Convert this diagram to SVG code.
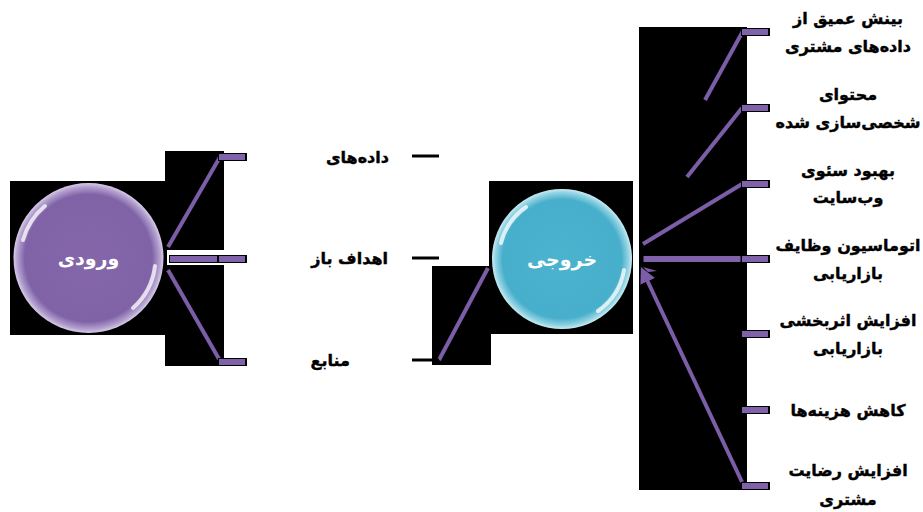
<svg xmlns="http://www.w3.org/2000/svg" width="923" height="512" viewBox="0 0 923 512">
<style>
.bg{fill:#000}
.ln{stroke:#7b5ea7;stroke-width:4;fill:none;stroke-linecap:butt}
.bar{fill:#7f62a9;stroke:#000;stroke-width:1}
.cap{fill:#000}
.lbl{font-family:"DejaVu Sans",sans-serif;font-weight:bold;font-size:16px;fill:#000;stroke:#000;stroke-width:0.4;text-anchor:end;dominant-baseline:central}
.rl{font-family:"DejaVu Sans",sans-serif;font-weight:bold;font-size:16px;fill:#000;stroke:#000;stroke-width:0.4;text-anchor:middle;dominant-baseline:central}
.ct{font-family:"DejaVu Sans",sans-serif;font-weight:bold;font-size:19px;fill:#fff;text-anchor:middle;dominant-baseline:central}
.hl{fill:none;stroke:#fff;stroke-width:4;stroke-linecap:round;opacity:0.75}
.dash{stroke:#000;stroke-width:3}
</style>
<defs>
<radialGradient id="gp" cx="50%" cy="50%" r="50%">
<stop offset="0" stop-color="#8466a9"/>
<stop offset="0.85" stop-color="#8063a7"/>
<stop offset="0.95" stop-color="#b3a0cf"/>
<stop offset="1" stop-color="#d8cce8"/>
</radialGradient>
<radialGradient id="gt" cx="50%" cy="50%" r="50%">
<stop offset="0" stop-color="#4cb3cf"/>
<stop offset="0.85" stop-color="#47afcb"/>
<stop offset="0.95" stop-color="#93d3e3"/>
<stop offset="1" stop-color="#c8ecf2"/>
</radialGradient>
<marker id="ah" viewBox="0 0 10 10" refX="1" refY="5" markerWidth="4" markerHeight="4" orient="auto-start-reverse">
<path d="M0,0 L10,5 L0,10 z" fill="#7b5ea7"/>
</marker>
</defs>

<g id="backgrounds">
<rect class="bg" x="10" y="181" width="156" height="154"/>
<rect class="bg" x="165" y="151" width="59" height="215"/>
<rect x="167" y="250" width="81" height="15" fill="#fff"/>
<rect class="bg" x="432" y="266" width="59" height="99"/>
<rect class="bg" x="489" y="181" width="144" height="153"/>
<rect class="bg" x="639" y="27" width="108" height="463"/>
</g>

<g id="connectors">
<line class="ln" x1="168" y1="247" x2="220" y2="157"/>
<line class="ln" x1="168" y1="270" x2="219" y2="359"/>
<line class="ln" x1="439" y1="360" x2="488" y2="268"/>
<line class="ln" x1="705" y1="100" x2="743" y2="31"/>
<line class="ln" x1="687" y1="177" x2="742" y2="108"/>
<line class="ln" x1="643" y1="244" x2="742" y2="184"/>
<rect class="bar" x="643" y="255.5" width="98" height="7"/>
<polygon points="643,267 657,271 648,272" fill="#7b5ea7"/>
<line class="ln" x1="647" y1="280" x2="742" y2="482" marker-start="url(#ah)"/>
<line class="dash" x1="412" y1="156" x2="439" y2="156"/>
<line class="dash" x1="412" y1="258" x2="439" y2="258"/>
<line class="dash" x1="412" y1="360" x2="439" y2="360"/>
</g>

<g id="bars-left">
<rect class="bar" x="218.5" y="153.5" width="27" height="7"/><rect class="cap" x="245" y="153" width="2" height="8"/>
<rect class="bar" x="169.5" y="255.5" width="48" height="7"/>
<rect class="bar" x="218.5" y="255.5" width="27" height="7"/><rect class="cap" x="245" y="255" width="2" height="8"/>
<rect class="bar" x="218.5" y="358.5" width="27" height="7"/><rect class="cap" x="245" y="358" width="2" height="8"/>
</g>

<g id="bars-right">
<rect class="bar" x="741.5" y="28.5" width="27" height="7"/><rect class="cap" x="768" y="28" width="2" height="8"/>
<rect class="bar" x="741.5" y="104.5" width="27" height="7"/><rect class="cap" x="768" y="104" width="2" height="8"/>
<rect class="bar" x="741.5" y="180.5" width="27" height="7"/><rect class="cap" x="768" y="180" width="2" height="8"/>
<rect class="bar" x="741.5" y="255.5" width="27" height="7"/><rect class="cap" x="768" y="255" width="2" height="8"/>
<rect class="bar" x="741.5" y="330.5" width="27" height="7"/><rect class="cap" x="768" y="330" width="2" height="8"/>
<rect class="bar" x="741.5" y="406.5" width="27" height="7"/><rect class="cap" x="768" y="406" width="2" height="8"/>
<rect class="bar" x="741.5" y="482.5" width="27" height="7"/><rect class="cap" x="768" y="482" width="2" height="8"/>
</g>

<g id="node-input">
<circle cx="88.5" cy="258" r="75" fill="url(#gp)"/>
<path class="hl" d="M23,240 A68,68 0 0 1 45,206"/>
<path class="hl" d="M155,266 A67,67 0 0 1 133,308"/>
<text class="ct" x="88.5" y="258">ورودی</text>
</g>

<g id="node-output">
<circle cx="562" cy="259" r="70" fill="url(#gt)"/>
<path class="hl" d="M501,243 A63,63 0 0 1 526,207"/>
<path class="hl" d="M624,270 A63,63 0 0 1 598,311"/>
<text class="ct" x="562" y="259">خروجی</text>
</g>

<g id="input-labels">
<text class="lbl" x="389" y="157">داده‌های</text>
<text class="lbl" x="388" y="258">اهداف باز</text>
<text class="lbl" x="350" y="360">منابع</text>
</g>

<g id="output-labels">
<text class="rl" x="848" y="18">بینش عمیق از</text>
<text class="rl" x="848" y="46">داده‌های مشتری</text>
<text class="rl" x="848" y="94">محتوای</text>
<text class="rl" x="848" y="122">شخصی‌سازی شده</text>
<text class="rl" x="848" y="170">بهبود سئوی</text>
<text class="rl" x="848" y="197">وب‌سایت</text>
<text class="rl" x="848" y="245">اتوماسیون وظایف</text>
<text class="rl" x="848" y="273">بازاریابی</text>
<text class="rl" x="848" y="320">افزایش اثربخشی</text>
<text class="rl" x="848" y="348">بازاریابی</text>
<text class="rl" x="848" y="410">کاهش هزینه‌ها</text>
<text class="rl" x="848" y="470">افزایش رضایت</text>
<text class="rl" x="848" y="499">مشتری</text>
</g>
</svg>
